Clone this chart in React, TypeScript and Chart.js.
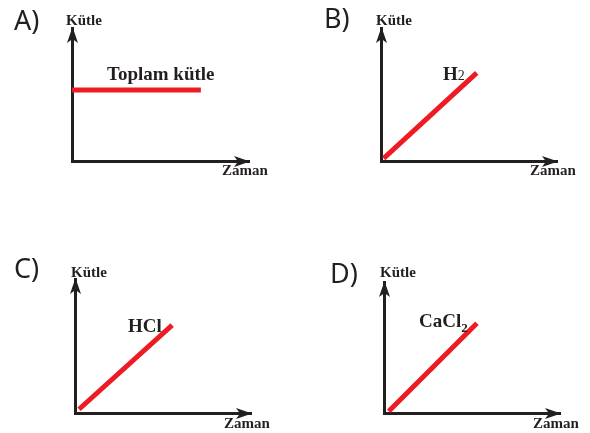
import React, { useEffect, useRef } from "react";
import { Chart, registerables } from "chart.js";

Chart.register(...registerables);

// ---- data ----
const panelLetters = ["A)", "B)", "C)", "D)"];
const seriesNames = ["Toplam kütle", "H", "HCl", "CaCl"];
const seriesSubscripts = ["", "2", "", "2"];
const yAxisTitle = "Kütle";
const xAxisTitle = "Zaman";

const timeA = [0, 7.28];
const massA = [5.34, 5.34];
const timeB = [0.15, 5.44];
const massB = [0.2, 6.63];
const timeC = [0.23, 5.52];
const massC = [0.28, 6.56];
const timeD = [0.27, 5.28];
const massD = [0.13, 6.85];

const seriesTimes = [timeA, timeB, timeC, timeD];
const seriesMasses = [massA, massB, massC, massD];

const axisMin = 0;
const axisMax = 10;

// ---- styles / layout ----
const RED = "#ed1c24";
const INK = "#231f20";

type Layout = {
  left: number;
  top: number;
  width: number;
  height: number;
  pad: { left: number; top: number; right: number; bottom: number };
  letter: [number, number];
  yTitle: [number, number];
  xTitle: [number, number];
  label: [number, number];
  subMode: "inline" | "sub" | "none";
};

const layouts: Layout[] = [
  {
    left: 0, top: 0, width: 295, height: 216,
    pad: { left: 72, top: 28, right: 46, bottom: 55 },
    letter: [14, 30], yTitle: [66, 25], xTitle: [222, 174.5], label: [107, 80], subMode: "none",
  },
  {
    left: 295, top: 0, width: 295, height: 216,
    pad: { left: 86, top: 28, right: 33, bottom: 55 },
    letter: [29, 28], yTitle: [81, 25], xTitle: [235, 174.5], label: [148, 80], subMode: "inline",
  },
  {
    left: 0, top: 216, width: 295, height: 217,
    pad: { left: 75, top: 63, right: 44, bottom: 20 },
    letter: [14, 62], yTitle: [71, 61], xTitle: [224, 212], label: [128, 116], subMode: "none",
  },
  {
    left: 295, top: 216, width: 295, height: 217,
    pad: { left: 89, top: 66, right: 30, bottom: 20 },
    letter: [35, 67], yTitle: [85, 61], xTitle: [238, 212], label: [124, 111], subMode: "sub",
  },
];

function align(p: number, w: number) {
  const h = w / 2;
  return Math.round(p - h) + h;
}

function Panel({ index }: { index: number }) {
  const ref = useRef<HTMLCanvasElement | null>(null);
  const L = layouts[index];

  useEffect(() => {
    const canvas = ref.current;
    if (!canvas) return;
    const xs = seriesTimes[index];
    const ys = seriesMasses[index];

    const decor = {
      id: "decor" + index,
      afterDraw(chart: any) {
        const ctx: CanvasRenderingContext2D = chart.ctx;
        const xScale = chart.scales.x;
        const yScale = chart.scales.y;
        const ox = align(yScale.right, 3);
        const oy = align(xScale.top, 3);
        const right = xScale.getPixelForValue(axisMax);
        const top = yScale.getPixelForValue(axisMax);
        ctx.save();
        ctx.fillStyle = INK;
        // x arrow head
        const tipX = right + 1;
        ctx.beginPath();
        ctx.moveTo(tipX, oy);
        ctx.lineTo(tipX - 16, oy - 5.5);
        ctx.lineTo(tipX - 12, oy);
        ctx.lineTo(tipX - 16, oy + 5.5);
        ctx.closePath();
        ctx.fill();
        // y arrow head
        const tipY = top - 1;
        ctx.beginPath();
        ctx.moveTo(ox, tipY);
        ctx.lineTo(ox - 5.5, tipY + 16);
        ctx.lineTo(ox, tipY + 12);
        ctx.lineTo(ox + 5.5, tipY + 16);
        ctx.closePath();
        ctx.fill();

        // texts
        ctx.textBaseline = "alphabetic";
        ctx.textAlign = "left";
        ctx.font = '400 27px "Noto Sans"';
        ctx.fillText(panelLetters[index], L.letter[0], L.letter[1]);

        ctx.font = 'bold 15px "Liberation Serif"';
        ctx.fillText(yAxisTitle, L.yTitle[0], L.yTitle[1]);
        ctx.fillText(xAxisTitle, L.xTitle[0], L.xTitle[1]);

        ctx.font = 'bold 19px "Liberation Serif"';
        const name = seriesNames[index];
        ctx.fillText(name, L.label[0], L.label[1]);
        const w = ctx.measureText(name).width;
        const sub = seriesSubscripts[index];
        if (sub) {
          if (L.subMode === "inline") {
            ctx.font = '400 14px "Liberation Serif"';
            ctx.fillText(sub, L.label[0] + w, L.label[1]);
          } else {
            ctx.font = 'bold 13px "Liberation Serif"';
            ctx.fillText(sub, L.label[0] + w, L.label[1] + 5);
          }
        }
        ctx.restore();
      },
    };

    const chart = new Chart(canvas, {
      type: "line",
      data: {
        datasets: [
          {
            data: xs.map((x, i) => ({ x, y: ys[i] })),
            borderColor: RED,
            borderWidth: 5,
            pointRadius: 0,
            borderCapStyle: "butt",
            clip: false as any,
            tension: 0,
          } as any,
        ],
      },
      options: {
        animation: false,
        responsive: false,
        maintainAspectRatio: false,
        devicePixelRatio: 1,
        events: [],
        layout: { padding: L.pad, autoPadding: false } as any,
        plugins: {
          legend: { display: false },
          tooltip: { enabled: false },
          title: { display: false },
        },
        scales: {
          x: {
            type: "linear",
            min: axisMin,
            max: axisMax,
            grid: { display: false, drawTicks: false },
            ticks: { display: false },
            border: { display: true, color: INK, width: 3 },
          },
          y: {
            type: "linear",
            min: axisMin,
            max: axisMax,
            grid: { display: false, drawTicks: false },
            ticks: { display: false },
            border: { display: true, color: INK, width: 3 },
          },
        },
      },
      plugins: [decor],
    });
    return () => chart.destroy();
  }, [index]);

  return (
    <canvas
      ref={ref}
      width={L.width}
      height={L.height}
      style={{
        position: "absolute",
        left: L.left,
        top: L.top,
        width: L.width,
        height: L.height,
      }}
    />
  );
}

export default function App() {
  return (
    <div
      style={{
        position: "absolute",
        left: 0,
        top: 0,
        width: 590,
        height: 433,
        background: "#ffffff",
        overflow: "hidden",
      }}
    >
      {panelLetters.map((_, i) => (
        <Panel key={i} index={i} />
      ))}
    </div>
  );
}
